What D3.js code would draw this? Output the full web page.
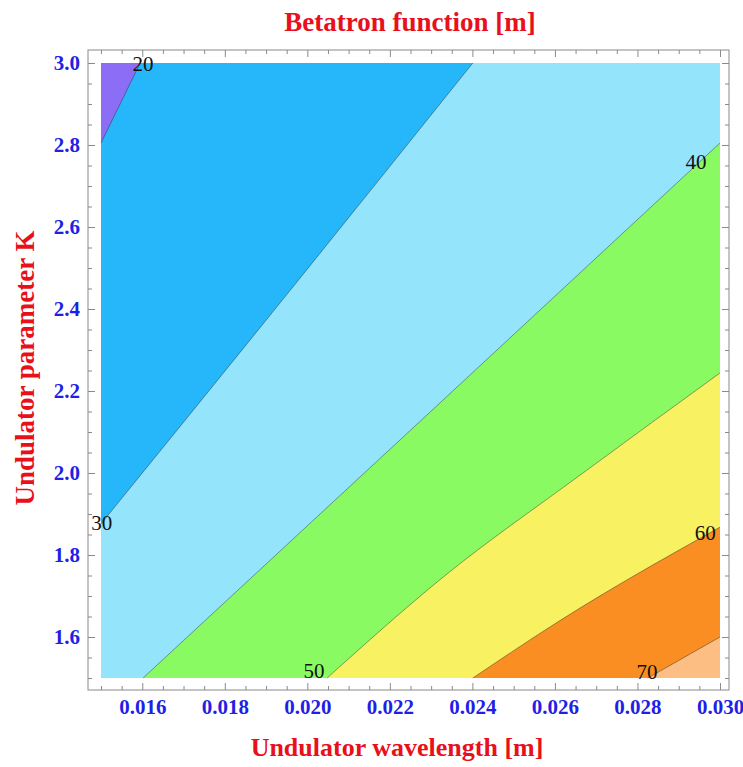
<!DOCTYPE html>
<html>
<head>
<meta charset="utf-8">
<script src="https://cdn.jsdelivr.net/npm/d3@7"></script>
<style>
  body { margin: 0; background: #fff; }
  svg { display: block; }
</style>
</head>
<body>
<div id="chart"></div>
<script>
// contour levels of the betatron function and the fill colour of each band
const levels = [20, 30, 40, 50, 60, 70];
const bandColors = ["#8b6ef5", "#26b6fa", "#94e4fc", "#8afa62", "#f8f262", "#fa8e22", "#fcbe82"];

// contour lines: [wavelength (m), K]
const contour20 = [[0.015, 2.805], [0.01595, 3.0]];
const contour30 = [[0.015, 1.876], [0.01934, 2.415], [0.02401, 3.0]];
const contour40 = [[0.01602, 1.5], [0.02329, 2.178], [0.030, 2.805]];
const contour50 = [[0.02048, 1.5], [0.02329, 1.746], [0.02668, 2.0], [0.030, 2.244]];
const contour60 = [[0.02401, 1.5], [0.02612, 1.64], [0.030, 1.868]];
const contour70 = [[0.02825, 1.5], [0.030, 1.6]];

// where the level labels sit
const labelSpots = [[0.01602, 2.998], [0.01502, 1.878], [0.02942, 2.759], [0.02016, 1.517], [0.02964, 1.854], [0.02823, 1.515]];

// tick labels
const xTickLabels = [0.016, 0.018, 0.020, 0.022, 0.024, 0.026, 0.028, 0.030];
const yTickLabels = [1.6, 1.8, 2.0, 2.2, 2.4, 2.6, 2.8, 3.0];

const contours = [contour20, contour30, contour40, contour50, contour60, contour70];

const W = 743, H = 767;
const lamMin = 0.015, lamMax = 0.030, kMin = 1.5, kMax = 3.0;
const serif = "'Liberation Serif', 'Times New Roman', serif";

let svg = d3.select("#chart").append("svg")
  .attr("width", W)
  .attr("height", H);

let x = d3.scaleLinear().domain([lamMin, lamMax]).range([101, 720]);
let y = d3.scaleLinear().domain([kMin, kMax]).range([678, 63]);

// frame box around the plot
const fL = 88, fR = 729, fT = 50, fB = 690;

// smooth the traced contour, straight along the plot edges
let curve = d3.line().x(d => x(d[0])).y(d => y(d[1])).curve(d3.curveMonotoneX);
let straight = d3.line().x(d => x(d[0])).y(d => y(d[1]));

// region where the value is above the level: the contour then round the lower right corner
function regionAbove(pts) {
  let corners = [];
  let start = pts[0], end = pts[pts.length - 1];
  if (end[1] == kMax) corners.push([lamMax, kMax]);
  corners.push([lamMax, kMin]);
  if (start[0] == lamMin) corners.push([lamMin, kMin]);
  corners.push(start);
  return curve(pts) + straight([end].concat(corners)).replace("M", "L") + "Z";
}

let plot = svg.append("g");

// lowest band fills the whole plot, the others are stacked on top
plot.append("rect")
  .attr("x", x(lamMin)).attr("y", y(kMax))
  .attr("width", x(lamMax) - x(lamMin))
  .attr("height", y(kMin) - y(kMax))
  .attr("fill", bandColors[0]);

plot.selectAll(".band")
  .data(contours)
  .enter().append("path")
  .attr("class", "band")
  .attr("d", d => regionAbove(d))
  .attr("fill", (d, i) => bandColors[i + 1]);

plot.selectAll(".cline")
  .data(contours)
  .enter().append("path")
  .attr("class", "cline")
  .attr("d", d => curve(d))
  .attr("fill", "none")
  .attr("stroke", "rgba(40,40,40,0.55)")
  .attr("stroke-width", 0.8);

// level labels
plot.selectAll(".lvl")
  .data(levels)
  .enter().append("text")
  .attr("class", "lvl")
  .attr("x", (d, i) => x(labelSpots[i][0]))
  .attr("y", (d, i) => y(labelSpots[i][1]))
  .attr("dy", "0.35em")
  .attr("text-anchor", "middle")
  .attr("font-family", serif)
  .attr("font-size", 21)
  .attr("fill", "#111")
  .text(d => d);

// frame
svg.append("rect")
  .attr("x", fL).attr("y", fT)
  .attr("width", fR - fL).attr("height", fB - fT)
  .attr("fill", "none")
  .attr("stroke", "#8a8a8a")
  .attr("stroke-width", 1);

// ticks: minor every 0.0005 / 0.05, major at the labelled values
let xMinor = d3.range(0, 31).map(i => lamMin + i * 0.0005).filter(v => !xTickLabels.some(t => Math.abs(t - v) < 1e-9));
let yMinor = d3.range(0, 31).map(i => kMin + i * 0.05).filter(v => !yTickLabels.some(t => Math.abs(t - v) < 1e-9));

function tickGroup(axis, tx, ty) {
  let g = svg.append("g")
    .attr("transform", "translate(" + tx + "," + ty + ")")
    .call(axis);
  g.select(".domain").remove();
  g.selectAll("line").attr("stroke", "#8a8a8a");
  return g;
}

// minor ticks on all four sides
tickGroup(d3.axisBottom(x).tickValues(xMinor).tickSize(-4).tickFormat(""), 0, fB);
tickGroup(d3.axisTop(x).tickValues(xMinor).tickSize(-4).tickFormat(""), 0, fT);
tickGroup(d3.axisLeft(y).tickValues(yMinor).tickSize(-4).tickFormat(""), fL, 0);
tickGroup(d3.axisRight(y).tickValues(yMinor).tickSize(-4).tickFormat(""), fR, 0);

// major ticks, labels only at bottom and left
let xb = tickGroup(d3.axisBottom(x).tickValues(xTickLabels).tickSize(-7).tickPadding(9).tickFormat(d3.format(".3f")), 0, fB);
tickGroup(d3.axisTop(x).tickValues(xTickLabels).tickSize(-7).tickFormat(""), 0, fT);
let yl = tickGroup(d3.axisLeft(y).tickValues(yTickLabels).tickSize(-7).tickPadding(8).tickFormat(d3.format(".1f")), fL, 0);
tickGroup(d3.axisRight(y).tickValues(yTickLabels).tickSize(-7).tickFormat(""), fR, 0);

[xb, yl].forEach(g => {
  g.selectAll("text")
    .attr("font-family", serif)
    .attr("font-size", 21)
    .attr("font-weight", "bold")
    .attr("fill", "#1f1fe6");
});

// axis titles in red
svg.append("text")
  .attr("x", 410).attr("y", 31)
  .attr("text-anchor", "middle")
  .attr("font-family", serif).attr("font-size", 27).attr("font-weight", "bold")
  .attr("fill", "#e8101a")
  .text("Betatron function [m]");

svg.append("text")
  .attr("x", 397).attr("y", 756)
  .attr("text-anchor", "middle")
  .attr("font-family", serif).attr("font-size", 26).attr("font-weight", "bold")
  .attr("fill", "#e8101a")
  .text("Undulator wavelength [m]");

svg.append("text")
  .attr("transform", "translate(34,368) rotate(-90)")
  .attr("text-anchor", "middle")
  .attr("font-family", serif).attr("font-size", 27).attr("font-weight", "bold")
  .attr("fill", "#e8101a")
  .text("Undulator parameter K");
</script>
</body>
</html>
